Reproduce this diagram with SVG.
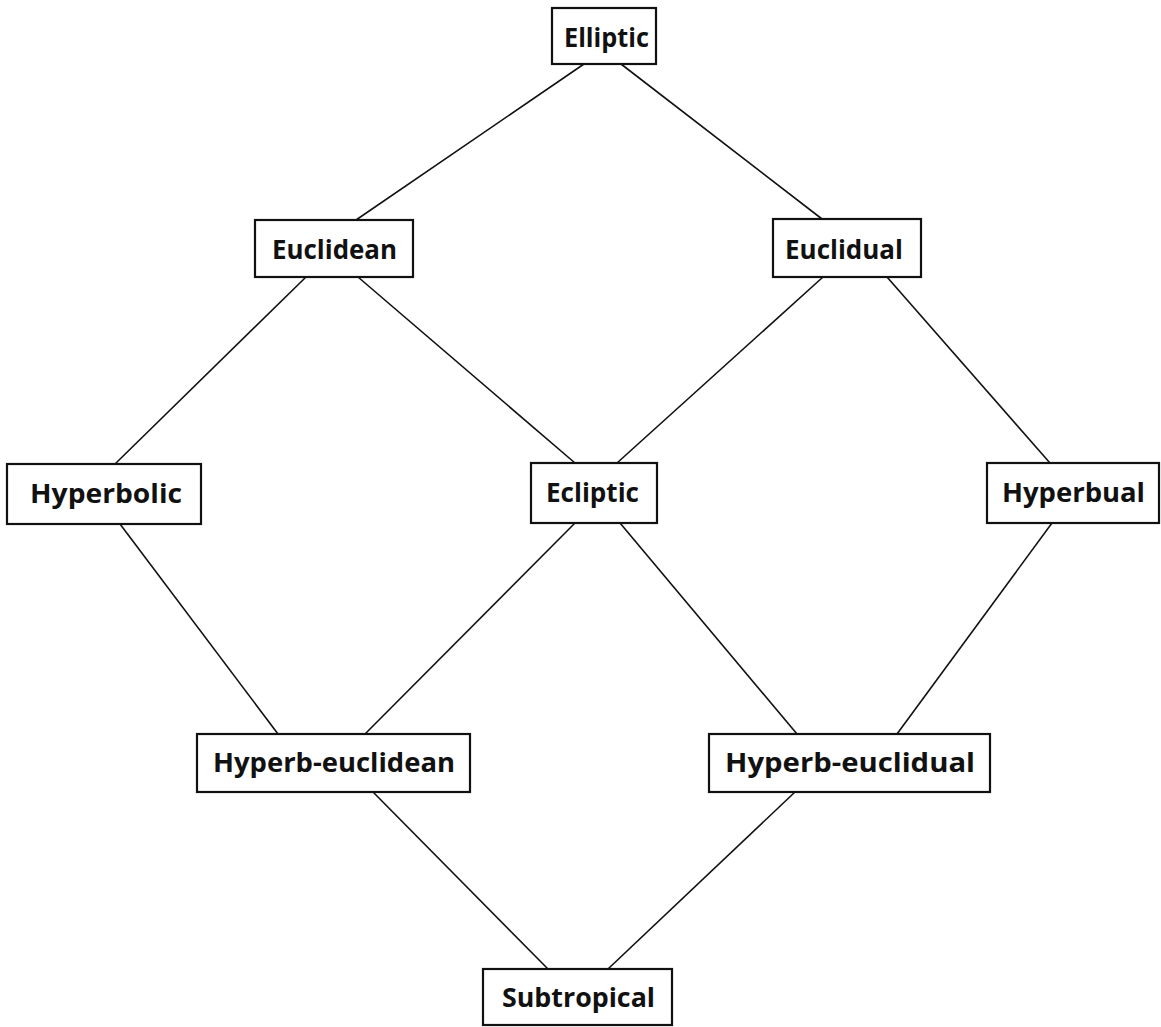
<svg xmlns="http://www.w3.org/2000/svg" width="1161" height="1027" viewBox="0 0 1161 1027">
<style>
.box{fill:#fff;stroke:#111;stroke-width:2.2}
.lbl{font-family:"Open Sans","Liberation Sans",sans-serif;font-weight:700;font-size:27px;fill:#111}
.edge{stroke:#111;stroke-width:1.6;fill:none}
</style>
<rect width="1161" height="1027" fill="#fff"/>
<g id="connectors">
<line class="edge" x1="584" y1="64" x2="356" y2="220"/>
<line class="edge" x1="621" y1="64" x2="822" y2="219"/>
<line class="edge" x1="306" y1="277" x2="115" y2="464"/>
<line class="edge" x1="358" y1="277" x2="575" y2="463"/>
<line class="edge" x1="823" y1="277" x2="617" y2="463"/>
<line class="edge" x1="887" y1="277" x2="1050" y2="463"/>
<line class="edge" x1="120" y1="524" x2="278" y2="734"/>
<line class="edge" x1="575" y1="523" x2="365" y2="734"/>
<line class="edge" x1="620" y1="523" x2="797" y2="734"/>
<line class="edge" x1="1052" y1="523" x2="897" y2="734"/>
<line class="edge" x1="373" y1="792" x2="548" y2="969"/>
<line class="edge" x1="795" y1="792" x2="608" y2="969"/>
</g>
<g id="n-elliptic"><rect class="box" x="552" y="8" width="104" height="56"/><text class="lbl" x="564" y="47" textLength="85" lengthAdjust="spacingAndGlyphs">Elliptic</text></g>
<g id="n-euclidean"><rect class="box" x="255" y="220" width="158" height="57"/><text class="lbl" x="272" y="259" textLength="125" lengthAdjust="spacingAndGlyphs">Euclidean</text></g>
<g id="n-euclidual"><rect class="box" x="773" y="219" width="148" height="58"/><text class="lbl" x="785" y="259" textLength="118" lengthAdjust="spacingAndGlyphs">Euclidual</text></g>
<g id="n-hyperbolic"><rect class="box" x="7" y="464" width="194" height="60"/><text class="lbl" x="30" y="503" textLength="152" lengthAdjust="spacingAndGlyphs">Hyperbolic</text></g>
<g id="n-ecliptic"><rect class="box" x="531" y="463" width="126" height="60"/><text class="lbl" x="546" y="502" textLength="93" lengthAdjust="spacingAndGlyphs">Ecliptic</text></g>
<g id="n-hyperbual"><rect class="box" x="987" y="463" width="172" height="60"/><text class="lbl" x="1002" y="502" textLength="143" lengthAdjust="spacingAndGlyphs">Hyperbual</text></g>
<g id="n-hyperb-euclidean"><rect class="box" x="197" y="734" width="273" height="58"/><text class="lbl" x="213" y="772" textLength="242" lengthAdjust="spacingAndGlyphs">Hyperb-euclidean</text></g>
<g id="n-hyperb-euclidual"><rect class="box" x="709" y="734" width="281" height="58"/><text class="lbl" x="725" y="772" textLength="250" lengthAdjust="spacingAndGlyphs">Hyperb-euclidual</text></g>
<g id="n-subtropical"><rect class="box" x="483" y="969" width="189" height="56"/><text class="lbl" x="502" y="1007" textLength="153" lengthAdjust="spacingAndGlyphs">Subtropical</text></g>
</svg>
